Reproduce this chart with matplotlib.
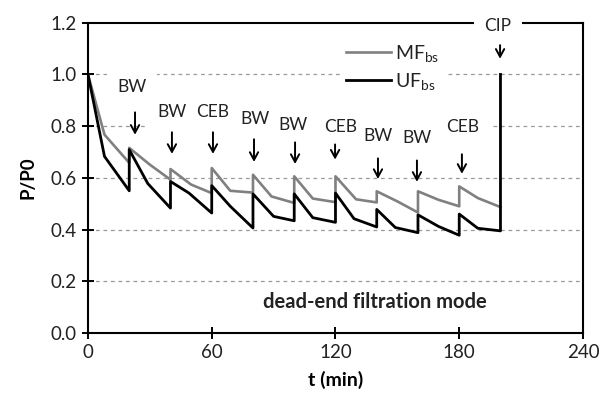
import matplotlib
matplotlib.use("Agg")
import matplotlib.pyplot as plt

plt.rcParams['font.family'] = ['Lato', 'DejaVu Sans']
plt.rcParams['mathtext.default'] = 'regular'

# data (t in min, P/P0)
t_mf = [0, 8, 20, 20, 30, 40, 40, 50, 60, 60, 69, 80, 80, 89, 100, 100, 109, 120,
        120, 130, 140, 140, 150, 160, 160, 170, 180, 180, 189, 200]
p_mf = [1.0, 0.767, 0.658, 0.716, 0.651, 0.593, 0.634, 0.574, 0.541, 0.638, 0.55, 0.543,
        0.612, 0.528, 0.503, 0.606, 0.52, 0.506, 0.606, 0.517, 0.505, 0.548, 0.509, 0.466,
        0.548, 0.515, 0.49, 0.567, 0.522, 0.487]

t_uf = [0, 8, 20, 20, 29, 40, 40, 49, 60, 60, 69, 80, 80, 90, 100, 100, 109, 120,
        120, 129, 140, 140, 149, 160, 160, 170, 180, 180, 189, 200, 200]
p_uf = [1.0, 0.683, 0.55, 0.709, 0.578, 0.483, 0.586, 0.541, 0.464, 0.57, 0.49, 0.406,
        0.538, 0.451, 0.434, 0.538, 0.446, 0.428, 0.541, 0.442, 0.41, 0.478, 0.408, 0.388,
        0.457, 0.412, 0.378, 0.46, 0.405, 0.395, 1.0]

events = ['BW', 'BW', 'CEB', 'BW', 'BW', 'CEB', 'BW', 'BW', 'CEB', 'CIP']
# label placement (layout only)
label_t = [21.2, 40.6, 60.5, 81.0, 99.5, 122.5, 140.4, 159.5, 181.8, 198.8]
label_y = [0.953, 0.853, 0.853, 0.826, 0.806, 0.795, 0.760, 0.756, 0.795, 1.186]
arrow_t = [22.8, 40.7, 60.6, 80.5, 100.4, 119.8, 140.6, 159.5, 181.3, 199.8]
arrow_top = [0.864, 0.787, 0.787, 0.760, 0.748, 0.740, 0.686, 0.678, 0.702, 1.124]
arrow_tip = [0.756, 0.682, 0.682, 0.651, 0.643, 0.660, 0.585, 0.574, 0.605, 1.050]

xticks = [0, 60, 120, 180, 240]
yticks = [0.0, 0.2, 0.4, 0.6, 0.8, 1.0, 1.2]

fig = plt.figure(figsize=(6.01, 3.97), dpi=100)
ax = fig.add_axes([0.1464, 0.1612, 0.8236, 0.7816])

# dashed grid, drawn by hand so the top spine gap stays clean
ax.hlines(yticks[1:-1], 0, 240, colors='#9a9a9a', linestyles=(0, (3, 3)), lw=0.9, zorder=1)

ax.plot(t_mf, p_mf, color='#808080', lw=1.9, label='MF$_{bs}$', zorder=3)
ax.plot(t_uf, p_uf, color='black', lw=2.0, label='UF$_{bs}$', zorder=4)

for name, lt, ly, at, a0, a1 in zip(events, label_t, label_y, arrow_t, arrow_top, arrow_tip):
    # white box first (hides the grid), then the label on top of every box
    ax.text(lt, ly, name, ha='center', va='center', fontsize=12.5, color='none',
            bbox=dict(boxstyle='square,pad=0.6', fc='white', ec='none'), zorder=5, clip_on=False)
    ax.text(lt, ly, name, ha='center', va='center', fontsize=12.5, color='#222222',
            zorder=6, clip_on=False)
    ax.annotate('', xy=(at, a1), xytext=(at, a0),
                arrowprops=dict(arrowstyle='->,head_length=0.55,head_width=0.3', color='black', lw=1.4),
                zorder=7, annotation_clip=False)

ax.text(139, 0.12, 'dead-end filtration mode', ha='center', va='center',
        fontsize=14.5, fontweight='bold', color='#222222')

leg = ax.legend(loc='upper left', bbox_to_anchor=(0.49, 0.985), fontsize=14,
                frameon=True, fancybox=False, framealpha=1, handlelength=2.3,
                handletextpad=0.2, labelspacing=0.35, borderpad=0.3)
leg.get_frame().set_edgecolor('none')
leg.get_frame().set_facecolor('white')
leg.set_zorder(5)
for txt in leg.get_texts():
    txt.set_color('#222222')

ax.set_xlim(0, 240)
ax.set_ylim(0, 1.2)
ax.set_xticks(xticks)
ax.set_yticks(yticks)
ax.set_yticklabels([f'{v:.1f}' for v in yticks])
ax.tick_params(direction='inout', length=8, width=1.4, labelsize=13.5, labelcolor='#222222', pad=4)

for sp in ax.spines.values():
    sp.set_linewidth(1.5)
    sp.set_color('black')

ax.set_xlabel('t (min)', fontsize=14, fontweight='bold', labelpad=7)
ax.set_ylabel('P/P0', fontsize=13.5, fontweight='bold', labelpad=10)

fig.savefig('out.png', dpi=100)
